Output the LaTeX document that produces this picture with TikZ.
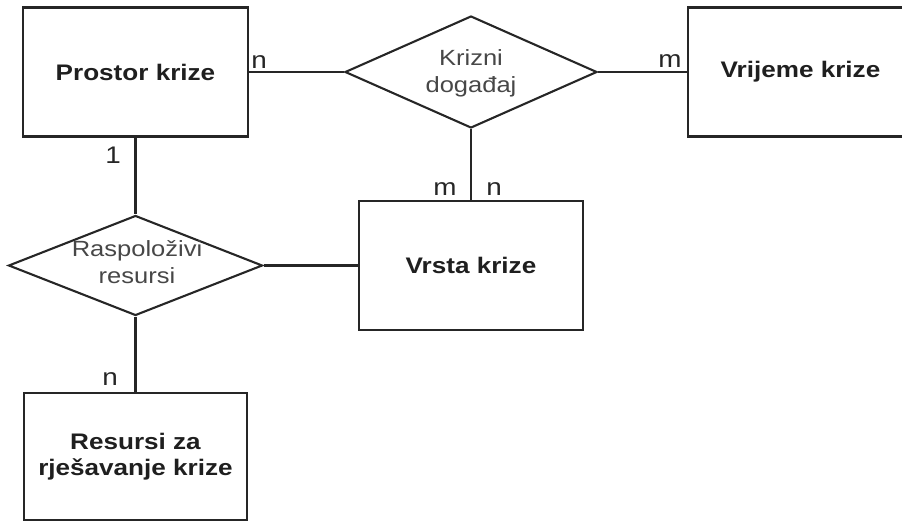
\documentclass[tikz,border=0pt]{standalone}
\usepackage{fontspec}
\setmainfont{Liberation Sans}[FakeStretch=1.16]
\usetikzlibrary{shapes.geometric}
\tikzset{
  ent/.style={draw=black!85, line width=2.3pt, rectangle, inner sep=0pt,
    minimum width=225pt, minimum height=129pt, align=center,
    font=\fontsize{22.5}{26}\selectfont\bfseries, text=black!88},
  rel/.style={draw=black!85, line width=2.1pt, diamond, inner sep=0pt},
  reltext/.style={inner sep=0pt, align=center,
    font=\fontsize{22}{27}\selectfont, text=black!72},
  conn/.style={draw=black!85, line width=2.1pt},
  card/.style={inner sep=0pt, anchor=base, font=\fontsize{24}{28}\selectfont, text=black!85}
}
\begin{document}
\begin{tikzpicture}[x=1pt, y=-1pt]
\useasboundingbox (0,0) rectangle (902,522);
\clip (0,0) rectangle (902,522);

% entities
\node[ent] (pk) at (135.5,72) {Prostor krize};
\node[ent] (vr) at (800.5,72) {Vrijeme krize};
\node[ent, minimum width=224pt] (vk) at (471,265.5) {Vrsta krize};
\node[ent, minimum width=223pt, minimum height=127pt] (rz) at (135.5,456.5) {Resursi za\\rješavanje krize};

% relationships
\node[rel, minimum width=252pt, minimum height=112pt] (kd) at (471,72) {};
\node[reltext] (kdt) at (471,73) {Krizni\\događaj};
\node[rel, minimum width=254pt, minimum height=100pt] (rr) at (135.5,265.5) {};
\node[reltext] (rrt) at (137,262) {Raspoloživi\\resursi};

% connectors
\draw[conn] (pk.east) -- (kd.west);
\draw[conn] (kd.east) -- (vr.west);
\draw[conn] (kd.south) -- (vk.north);
\draw[conn] (pk.south) -- (rr.north);
\draw[conn] (rr.south) -- (rz.north);
\draw[conn] (rr.east) -- (vk.west);

% cardinalities
\node[card] (c1) at (259,68) {n};
\node[card] (c2) at (670,67) {m};
\node[card] (c3) at (113,163) {1};
\node[card] (c4) at (445,195) {m};
\node[card] (c5) at (494,195) {n};
\node[card] (c6) at (110,385) {n};
\end{tikzpicture}
\end{document}
